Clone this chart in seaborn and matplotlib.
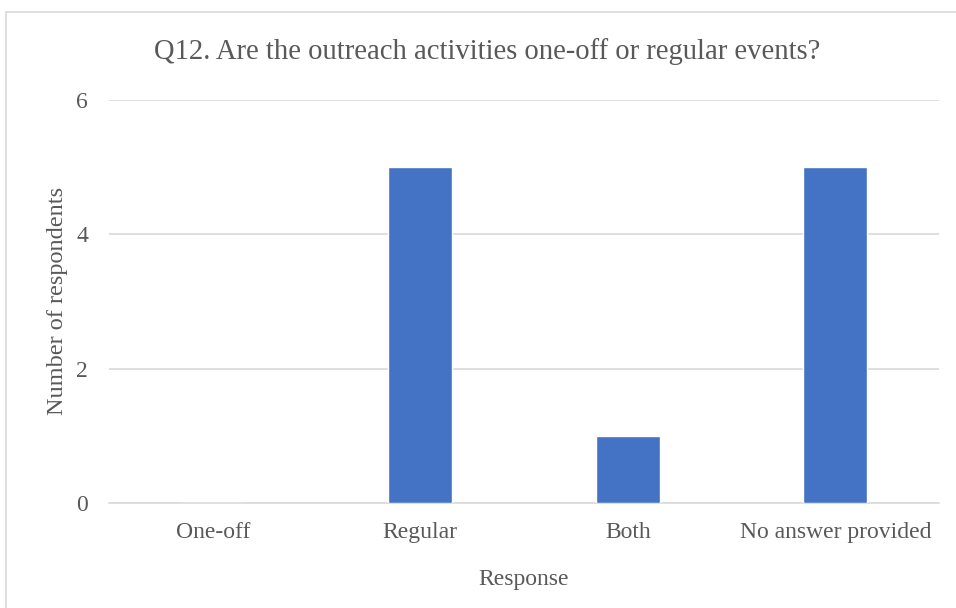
import matplotlib
matplotlib.use("Agg")
import matplotlib.pyplot as plt
import seaborn as sns
import pandas as pd
from matplotlib.patches import Rectangle

categories = ["One-off", "Regular", "Both", "No answer provided"]
respondents = [0, 5, 1, 5]
y_ticks = [0, 2, 4, 6]

title = "Q12. Are the outreach activities one-off or regular events?"
x_label = "Response"
y_label = "Number of respondents"

sns.set_theme(style="white")
plt.rcParams["font.family"] = ["Liberation Serif", "DejaVu Serif"]

text_color = "#595959"
grid_color = "#d9d9d9"
bar_color = "#4472c4"

df = pd.DataFrame({"Response": categories, "Count": respondents})

fig = plt.figure(figsize=(9.56, 6.08), dpi=100)
W, H = 956, 608
ax = fig.add_axes([109 / W, 1 - 503 / H, (939 - 109) / W, (503 - 100) / H])

sns.barplot(data=df, x="Response", y="Count", order=categories,
            color=bar_color, saturation=1, width=0.31, ax=ax, zorder=3)

ax.set_ylim(0, 6)
ax.set_yticks(y_ticks)
ax.set_xlim(-0.5, len(categories) - 0.5)
ax.yaxis.grid(True, color=grid_color, linewidth=1.2, zorder=0)
ax.xaxis.grid(False)
for s in ["top", "right", "left"]:
    ax.spines[s].set_visible(False)
ax.spines["bottom"].set_color(grid_color)
ax.spines["bottom"].set_linewidth(1.2)
ax.tick_params(axis="both", length=0, labelsize=17, colors=text_color)
ax.tick_params(axis="y", pad=15)
ax.tick_params(axis="x", pad=14)

ax.set_xlabel("")
ax.set_ylabel("")
fig.text(524 / W, 1 - 580 / H, x_label, ha="center", va="center",
         fontsize=17, color=text_color)
fig.text(58 / W, 1 - 301 / H, y_label, ha="center", va="center",
         rotation=90, fontsize=17.5, color=text_color)
fig.text(487 / W, 1 - 52 / H, title, ha="center", va="center",
         fontsize=20.6, color=text_color)

# chart frame
fig.patches.append(Rectangle((6 / W, -0.05), 1.1, 1 - 12 / H + 0.05,
                             transform=fig.transFigure, fill=False,
                             edgecolor=grid_color, linewidth=1.2))

fig.savefig("out.png", dpi=100)
